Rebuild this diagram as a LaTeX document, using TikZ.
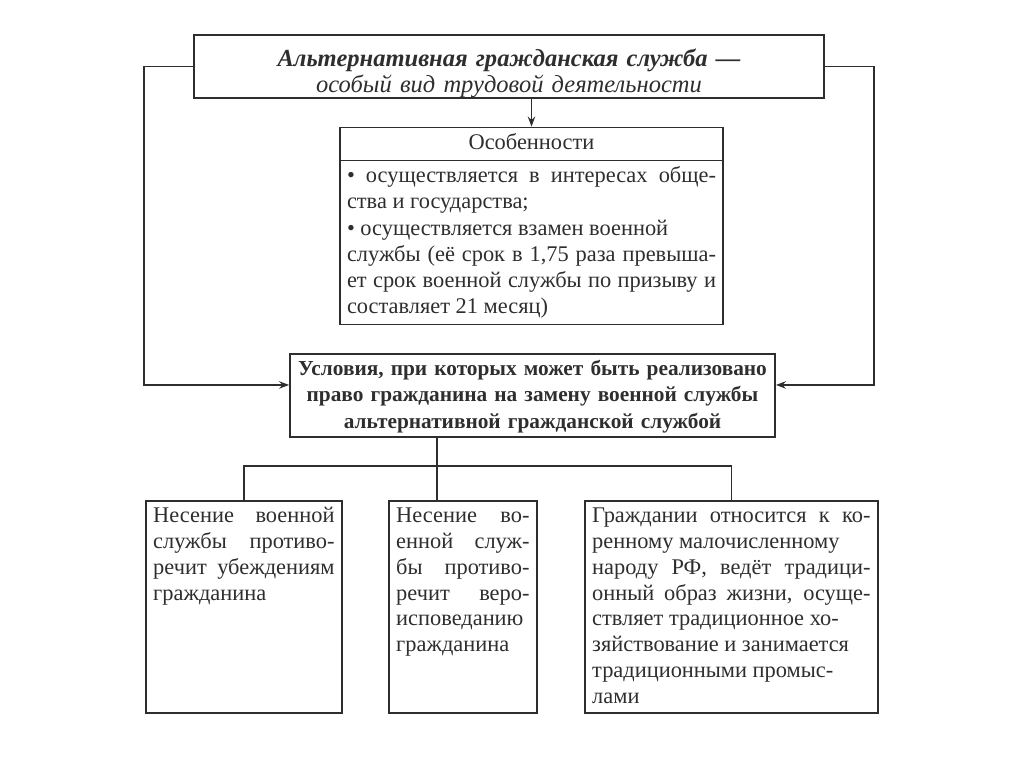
\documentclass[tikz,border=0pt]{standalone}
\usepackage{fontspec}
\setmainfont{Liberation Serif}
\usepackage{xcolor}
\usepackage{tikz}
\usetikzlibrary{shapes,positioning,arrows.meta}
\definecolor{ink}{HTML}{2E2E2E}
\newcommand{\bodyfont}{\fontsize{16.8}{19.3}\selectfont}

\begin{document}
\begin{tikzpicture}[x=0.75pt, y=-0.75pt, >={Stealth[length=7.5pt, width=5.5pt]}, line width=1.3pt, color=ink,
        main/.style={rectangle, draw, inner sep=0pt, font=\bodyfont},
        leaf/.style={main, anchor=north west, align=justify, inner xsep=5.5pt, inner ysep=5pt, text height=11.5pt, text depth=137.5pt}]
        \useasboundingbox (0,0) rectangle (1024,767);
        \node[main, text width=472.5pt, text height=24pt, text depth=23.25pt, align=center, font=\fontsize{18.4}{19.5}\selectfont\itshape] (alt) at (509,66.5) {{\bfseries Альтернативная гражданская служба —}\\особый вид трудовой деятельности};
        \node[main, rectangle split, rectangle split parts=2, text width=276.75pt, inner xsep=5.25pt, inner ysep=4pt, align=justify, font=\fontsize{16.8}{19.6}\selectfont] (osob) at (531.5,226) {\makebox[\hsize]{\rule[-3.5pt]{0pt}{11pt}Особенности} \nodepart{second} • осуществляется в интересах обще-\linebreak ства и государства;\\ • осуществляется взамен военной\\ службы (её срок в 1,75 раза превыша-\linebreak ет срок военной службы по призыву и\linebreak составляет 21 месяц)\rule[-3pt]{0pt}{3pt}};
        \node[main, text width=363.75pt, text height=15.75pt, text depth=46.5pt, align=center, font=\fontsize{16}{20}\selectfont\bfseries] (uslov) at (532.5,395.5) {Условия, при которых может быть реализовано\\право гражданина на замену военной службы\\альтернативной гражданской службой};
        \node[leaf, text width=136pt] (b1) at (145,500) {Несение военной\linebreak службы противо-\linebreak речит убеждениям\linebreak гражданина};
        \node[leaf, text width=100pt] (b2) at (388,500) {Несение во-\linebreak енной служ-\linebreak бы противо-\linebreak речит веро-\linebreak исповеданию\\ гражданина};
        \node[leaf, text width=208.75pt] (b3) at (584,500) {Граждании относится к ко-\linebreak ренному малочисленному\\ народу РФ, ведёт традици-\linebreak онный образ жизни, осуще-\linebreak ствляет традиционное хо-\\ зяйствование и занимается\\ традиционными промыс-\\ лами};
        \coordinate (fork) at (437,466);
        \draw[->] (alt.south -| osob.north) -- (osob.north);
        \draw[->] (alt.west) -- ++(-49,0) |- ([yshift=7.9pt]uslov.west);
        \draw[->] (alt.east) -- ++(49,0) |- ([yshift=7.9pt]uslov.east);
        \draw (fork |- uslov.south) -- (fork |- b2.north);
        \draw (b1.north) |- (fork) -| (b3.north);
    \end{tikzpicture}
\end{document}
